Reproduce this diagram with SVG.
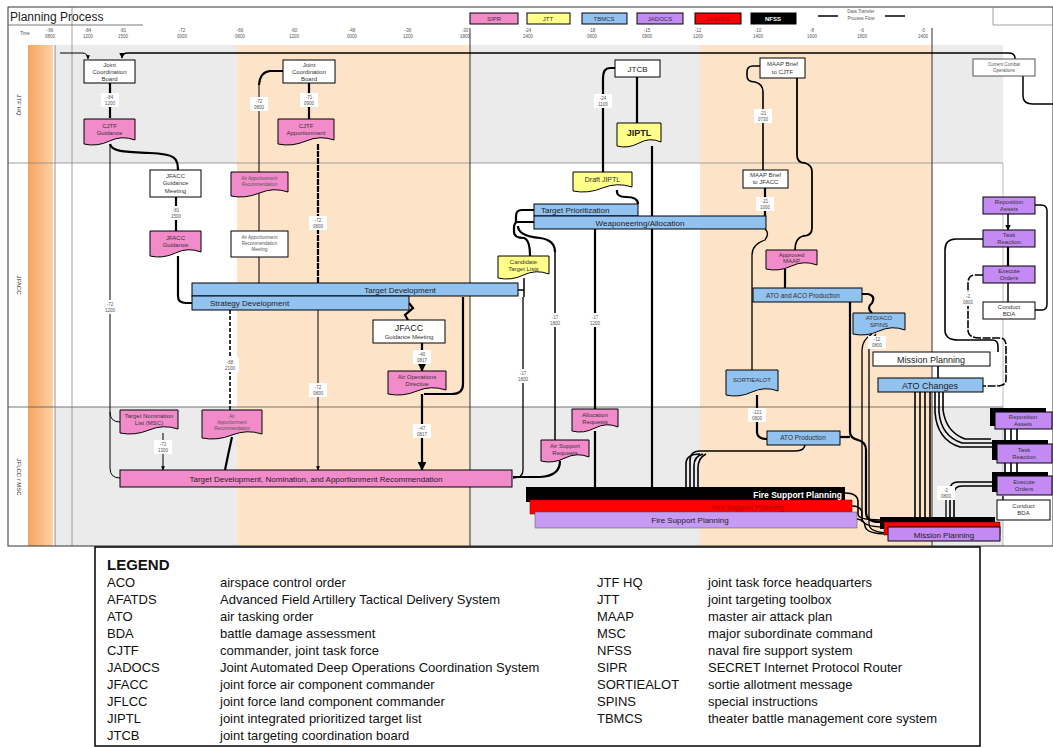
<svg xmlns="http://www.w3.org/2000/svg" width="1053" height="747" viewBox="0 0 1053 747">
<defs>
<linearGradient id="og" x1="0" x2="1"><stop offset="0" stop-color="#f6a35c"/><stop offset="1" stop-color="#fcd2a6"/></linearGradient>
<marker id="ar" viewBox="0 0 6 6" refX="5.5" refY="3" markerWidth="4" markerHeight="4" orient="auto"><path d="M0,0 L6,3 L0,6 Z" fill="#000"/></marker>
<style>
.n{fill:#fff;stroke:#000;stroke-width:1}
.pk{fill:#f28bc9;stroke:#000;stroke-width:1}
.yl{fill:#ffff8a;stroke:#000;stroke-width:1}
.bl{fill:#92c2f0;stroke:#000;stroke-width:1}
.pu{fill:#c28af2;stroke:#000;stroke-width:1}
.bk{fill:#000;stroke:#000}
.s{font-family:"Liberation Sans",Arial,sans-serif;font-size:6px;fill:#333;text-anchor:middle}
.m{font-family:"Liberation Sans",Arial,sans-serif;font-size:8px;fill:#222;text-anchor:middle}
.tl{font-family:"Liberation Sans",Arial,sans-serif;font-size:4.5px;fill:#555;text-anchor:middle}
.lg{font-family:"Liberation Sans",Arial,sans-serif;font-size:13px;fill:#111}
.c{fill:none;stroke:#000;stroke-width:1}
.k{fill:none;stroke:#000;stroke-width:2.2}
.lb{fill:#fff}
</style>
</defs>

<g id="background">
<rect x="0" y="0" width="1053" height="747" fill="#fff"/>
<rect x="55" y="45" width="182" height="118" fill="#ebebeb"/>
<rect x="55" y="407" width="182" height="139" fill="#ebebeb"/>
<rect x="237" y="45" width="233" height="501" fill="#fde4c9"/>
<rect x="470" y="45" width="230" height="118" fill="#ebebeb"/>
<rect x="470" y="407" width="230" height="139" fill="#ebebeb"/>
<rect x="700" y="45" width="232" height="501" fill="#fde4c9"/>
<rect x="932" y="45" width="71" height="118" fill="#ebebeb"/>
<rect x="932" y="407" width="71" height="139" fill="#ebebeb"/>
<rect x="28" y="45" width="25" height="501" fill="url(#og)"/>
<line x1="8" y1="163" x2="1003" y2="163" stroke="#888" stroke-width="0.8"/>
<line x1="8" y1="407" x2="1003" y2="407" stroke="#555" stroke-width="0.8"/>
<line x1="55" y1="45" x2="55" y2="546" stroke="#777" stroke-width="0.8"/>
<line x1="72" y1="7" x2="72" y2="546" stroke="#888" stroke-width="0.8"/>
<line x1="1003" y1="163" x2="1003" y2="546" stroke="#aaa" stroke-width="0.8"/>
<line x1="470" y1="28" x2="470" y2="546" stroke="#333" stroke-width="1"/>
<line x1="932" y1="28" x2="932" y2="546" stroke="#333" stroke-width="1"/>
<rect x="8" y="7" width="1045" height="539" fill="none" stroke="#333" stroke-width="1"/>
<line x1="8" y1="25" x2="143" y2="25" stroke="#555" stroke-width="0.8"/>
<line x1="993" y1="7" x2="993" y2="25" stroke="#888" stroke-width="0.8"/>
<line x1="993" y1="25" x2="1053" y2="25" stroke="#888" stroke-width="0.8"/>
<text x="10" y="21" font-family="Liberation Sans, Arial, sans-serif" font-size="12" fill="#222">Planning Process</text>
<text class="s" transform="translate(17,105) rotate(90)">JTF HQ</text>
<text class="s" transform="translate(17,285) rotate(90)">JFACC</text>
<text class="s" transform="translate(17,477) rotate(90)">JFLCC / MSC</text>
</g>

<g id="timeline">
<text class="tl" x="20" y="35" style="text-anchor:start">Time</text>
<text class="tl" x="50" y="32">-96</text><text class="tl" x="50" y="38">0800</text>
<text class="tl" x="88" y="32">-84</text><text class="tl" x="88" y="38">1200</text>
<text class="tl" x="123" y="32">-81</text><text class="tl" x="123" y="38">1500</text>
<text class="tl" x="182" y="32">-72</text><text class="tl" x="182" y="38">0000</text>
<text class="tl" x="240" y="32">-66</text><text class="tl" x="240" y="38">0600</text>
<text class="tl" x="294" y="32">-60</text><text class="tl" x="294" y="38">1200</text>
<text class="tl" x="352" y="32">-48</text><text class="tl" x="352" y="38">0000</text>
<text class="tl" x="408" y="32">-36</text><text class="tl" x="408" y="38">1200</text>
<text class="tl" x="465" y="32">-30</text><text class="tl" x="465" y="38">1800</text>
<text class="tl" x="528" y="32">-24</text><text class="tl" x="528" y="38">2400</text>
<text class="tl" x="592" y="32">-18</text><text class="tl" x="592" y="38">0600</text>
<text class="tl" x="647" y="32">-15</text><text class="tl" x="647" y="38">0900</text>
<text class="tl" x="698" y="32">-12</text><text class="tl" x="698" y="38">1200</text>
<text class="tl" x="758" y="32">-10</text><text class="tl" x="758" y="38">1400</text>
<text class="tl" x="812" y="32">-8</text><text class="tl" x="812" y="38">1600</text>
<text class="tl" x="862" y="32">-6</text><text class="tl" x="862" y="38">1800</text>
<text class="tl" x="923" y="32">-0</text><text class="tl" x="923" y="38">2400</text>
</g>

<g id="key">
<rect x="470" y="13" width="48" height="11" class="pk"/><text class="s" x="494" y="21">SIPR</text>
<rect x="527" y="13" width="43" height="11" class="yl"/><text class="s" x="548" y="21">JTT</text>
<rect x="582" y="13" width="45" height="11" class="bl"/><text class="s" x="604" y="21">TBMCS</text>
<rect x="637" y="13" width="46" height="11" class="pu"/><text class="s" x="660" y="21">JADOCS</text>
<rect x="695" y="13" width="46" height="11" fill="#f00" stroke="#000"/><text class="s" x="718" y="21" style="fill:#900">AFATDS</text>
<rect x="751" y="13" width="45" height="11" class="bk"/><text class="s" x="773" y="21" style="fill:#fff;font-weight:bold">NFSS</text>
<line x1="818" y1="16" x2="838" y2="16" stroke="#000" stroke-width="1.5"/>
<line x1="885" y1="16" x2="905" y2="16" stroke="#000" stroke-width="1.5"/>
<text class="tl" x="861" y="13">Data Transfer</text>
<text class="tl" x="861" y="20">Process Flow</text>
</g>

<g id="connectors">
<path class="c" d="M60,53 H82 Q88,53 88,59" marker-end="url(#ar)"/>
<path class="k" style="stroke-width:1.5" d="M1015,59 V58 Q1015,53 1008,53 H128 Q122,53 122,58" marker-end="url(#ar)"/>
<path class="c" style="stroke-width:1.5" d="M1023,76 V96 Q1023,104 1033,104 H1053"/>
<path class="k" d="M110,83 V118"/>
<path class="k" d="M110,144 C112,152 125,152 150,153 S178,158 178,170"/>
<path class="c" d="M110,144 V468 Q110,478 120,478"/>
<path class="c" d="M110,412 Q110,422 120,422"/>
<path class="k" d="M176,197 V231"/>
<path class="k" d="M178,256 V296 Q178,303 186,303 H192"/>
<path class="k" d="M283,71 H270 Q260,72 259,85"/>
<path class="c" d="M259,85 V283"/>
<path class="k" d="M309,83 V119"/>
<path class="k" style="stroke-dasharray:6,1" d="M318,144 V283"/>
<path class="c" d="M318,296 V470" marker-end="url(#ar)"/>
<path class="k" style="stroke-width:1.6;stroke-dasharray:4,2" d="M230,310 V410"/>
<path class="k" d="M232,437 Q228,455 225,470"/>
<path class="c" d="M163,433 V470" marker-end="url(#ar)"/>
<path class="k" d="M409,303 L413,308 L405,315 L408,320"/>
<path class="k" d="M422,343 V371" marker-end="url(#ar)"/>
<path class="k" d="M422,394 V470" marker-end="url(#ar)"/>
<path class="k" d="M463,297 V384 Q463,394 452,394 H424"/>
<path class="k" d="M637,77 V123"/>
<path class="k" d="M615,68 H610 Q603,68 603,78 V172"/>
<path class="k" d="M617,190 Q616,197 626,197 Q638,197 638,204"/>
<path class="k" d="M652,146 V216"/>
<path class="k" d="M652,229 V487"/>
<path class="k" d="M595,229 V409"/>
<path class="k" d="M595,431 V487"/>
<path class="k" d="M534,210 H522 Q516,210 516,216 V222"/>
<path class="k" d="M534,222 H518 Q514,222 514,228 V232 Q514,238 524,238 Q530,240 530,256"/>
<path class="k" d="M518,226 Q518,236 540,238 Q555,240 555,252"/>
<path class="c" style="stroke-width:1.5" d="M555,252 V440"/>
<path class="k" style="stroke-width:1.5" d="M518,290 H524 M524,283 V297 M524,278 V283"/>
<path class="c" style="stroke-width:1.3" d="M523,297 V470 Q523,478 513,478"/>
<path class="k" d="M560,461 Q560,476 540,477 H513"/>
<path class="c" style="stroke-width:1.6" d="M760,66 H753 Q747,66 747,72 V76 Q747,82 755,82 Q763,84 763,92 V170"/>
<path class="k" style="stroke-width:1.8" d="M797,78 V155 Q797,163 805,163 Q812,165 812,172 V228 Q812,236 803,236 Q795,238 795,250"/>
<path class="k" d="M765,188 V216"/>
<path class="c" style="stroke-width:1.3" d="M765,229 Q770,233 765,240 Q752,244 752,255 V370"/>
<path class="k" d="M785,269 V288"/>
<path class="k" d="M862,294 H868 Q876,296 872,303 Q866,308 872,313"/>
<path class="k" d="M850,302 V432 Q850,438 858,440 Q866,442 866,450 V512 Q866,522 880,522"/>
<path class="k" d="M840,437 H850"/>
<path class="c" style="stroke-width:1.3" d="M872,334 Q862,340 862,350 V518 Q862,527 884,527"/>
<path class="c" style="stroke-width:1.3" d="M876,334 Q868,344 869,352 V524 Q869,532 888,533"/>
<path class="k" d="M757,395 V432 Q757,439 767,439"/>
<path class="k" style="stroke-width:1.6" d="M805,444 Q805,451 795,451 H700 Q690,451 690,461 V487"/>
<path class="k" style="stroke-width:1.6" d="M700,454 Q686,454 686,464 V487"/>
<path class="k" style="stroke-width:1.6" d="M703,454 Q694,456 694,466 V487"/>
<path class="k" style="stroke-width:1.6" d="M706,454 Q698,458 698,468 V487"/>
<path class="k" style="stroke-width:1.6" d="M845,493 Q858,493 858,502 V514 Q858,520 880,520"/>
<path class="k" style="stroke-width:1.6" d="M852,506 Q862,506 862,514 V522"/>
<path class="k" style="stroke-width:1.6" d="M857,519 Q865,520 865,526 Q866,534 888,534"/>
<path class="k" style="stroke-width:1.6" d="M938,366 V378"/>
<path class="k" style="stroke-width:1.6" d="M915,392 V517"/>
<path class="k" style="stroke-width:1.6" d="M920,392 V517"/>
<path class="k" style="stroke-width:1.6" d="M925,392 V517"/>
<path class="k" style="stroke-width:1.6" d="M930,392 V517"/>
<path class="k" style="stroke-width:1.6" d="M935,392 V412 Q937,440 960,447 H995"/>
<path class="k" style="stroke-width:1.6" d="M939,392 V412 Q941,436 962,443 H993"/>
<path class="k" style="stroke-width:1.6" d="M943,392 V410 Q946,432 965,439 H991"/>
<path class="k" style="stroke-width:1.5" d="M1008,214 V230" marker-end="url(#ar)"/>
<path class="k" d="M1008,247 V266"/>
<path class="k" style="stroke-width:1.5" d="M1008,283 V302"/>
<path class="k" style="stroke-width:1.5" d="M1035,310 H1042 Q1047,310 1047,304 V211 Q1047,205 1041,205 H1035"/>
<path class="k" style="stroke-width:1.6" d="M983,239 H956 Q945,239 945,250 V330 Q945,340 958,340 H992 Q998,340 998,346 V352"/>
<path class="k" style="stroke-width:1.6;stroke-dasharray:8,1.5" d="M983,275 H976 Q968,275 968,283 V330 Q968,338 980,338 H1000 Q1006,338 1006,346 V380 Q1006,386 996,386 H983"/>
<path class="k" style="stroke-width:1.6" d="M1005,429 V443 M1011,429 V443 M1017,429 V443"/>
<path class="k" style="stroke-width:1.6" d="M1005,463 V476 M1011,463 V476 M1017,463 V476"/>
<path class="k" style="stroke-width:1.6" d="M997,482 H958 Q950,482 950,490 V517"/>
<path class="k" style="stroke-width:1.6" d="M997,486 H962 Q954,486 954,494 V517"/>
<path class="c" style="stroke-width:1.3" d="M946,490 V517"/>
<path class="c" style="stroke-width:1.3" d="M1003,496 V500"/>
<rect class="lb" x="101" y="93" width="18" height="14"/><text class="tl" x="110" y="99">-84</text><text class="tl" x="110" y="105">1200</text>
<rect class="lb" x="167" y="206" width="18" height="14"/><text class="tl" x="176" y="212">-81</text><text class="tl" x="176" y="218">1500</text>
<rect class="lb" x="101" y="300" width="18" height="14"/><text class="tl" x="110" y="306">-72</text><text class="tl" x="110" y="312">1200</text>
<rect class="lb" x="250" y="97" width="18" height="14"/><text class="tl" x="259" y="103">-72</text><text class="tl" x="259" y="109">0800</text>
<rect class="lb" x="300" y="93" width="18" height="14"/><text class="tl" x="309" y="99">-71</text><text class="tl" x="309" y="105">0900</text>
<rect class="lb" x="309" y="216" width="18" height="14"/><text class="tl" x="318" y="222">-72</text><text class="tl" x="318" y="228">0800</text>
<rect class="lb" x="309" y="383" width="18" height="14"/><text class="tl" x="318" y="389">-72</text><text class="tl" x="318" y="395">0800</text>
<rect class="lb" x="221" y="358" width="18" height="14"/><text class="tl" x="230" y="364">-68</text><text class="tl" x="230" y="370">2100</text>
<rect class="lb" x="154" y="440" width="18" height="14"/><text class="tl" x="163" y="446">-72</text><text class="tl" x="163" y="452">1300</text>
<rect class="lb" x="413" y="350" width="18" height="14"/><text class="tl" x="422" y="356">-40</text><text class="tl" x="422" y="362">0817</text>
<rect class="lb" x="413" y="424" width="18" height="14"/><text class="tl" x="422" y="430">-47</text><text class="tl" x="422" y="436">0817</text>
<rect class="lb" x="594" y="94" width="18" height="14"/><text class="tl" x="603" y="100">-24</text><text class="tl" x="603" y="106">1100</text>
<rect class="lb" x="546" y="313" width="18" height="14"/><text class="tl" x="555" y="319">-17</text><text class="tl" x="555" y="325">1800</text>
<rect class="lb" x="586" y="313" width="18" height="14"/><text class="tl" x="595" y="319">-17</text><text class="tl" x="595" y="325">1200</text>
<rect class="lb" x="514" y="369" width="18" height="14"/><text class="tl" x="523" y="375">-17</text><text class="tl" x="523" y="381">1800</text>
<rect class="lb" x="754" y="109" width="18" height="14"/><text class="tl" x="763" y="115">-21</text><text class="tl" x="763" y="121">0730</text>
<rect class="lb" x="756" y="197" width="18" height="14"/><text class="tl" x="765" y="203">-21</text><text class="tl" x="765" y="209">1000</text>
<rect class="lb" x="748" y="408" width="18" height="14"/><text class="tl" x="757" y="414">-121</text><text class="tl" x="757" y="420">0800</text>
<rect class="lb" x="868" y="336" width="18" height="13"/><text class="tl" x="877" y="341">-12</text><text class="tl" x="877" y="347">0800</text>
<rect class="lb" x="959" y="292" width="18" height="14"/><text class="tl" x="968" y="298">-2</text><text class="tl" x="968" y="304">0800</text>
<rect class="lb" x="937" y="486" width="18" height="14"/><text class="tl" x="946" y="492">-2</text><text class="tl" x="946" y="498">0800</text>
</g>

<g id="n-jcb1"><rect class="n" x="84" y="60" width="51" height="23"/><text class="s" x="109.5" y="67">Joint</text><text class="s" x="109.5" y="74">Coordination</text><text class="s" x="109.5" y="81">Board</text></g>
<g id="n-cjtf-guidance"><path class="pk" d="M84,119 H135 V140 Q122,135 109.5,141 T84,144 Z"/><text class="s" x="109.5" y="128">CJTF</text><text class="s" x="109.5" y="135">Guidance</text></g>
<g id="n-jcb2"><rect class="n" x="283" y="60" width="52" height="23"/><text class="s" x="309" y="67">Joint</text><text class="s" x="309" y="74">Coordination</text><text class="s" x="309" y="81">Board</text></g>
<g id="n-cjtf-app"><path class="pk" d="M278,119 H334 V140 Q320,135 306,141 T278,144 Z"/><text class="s" x="306" y="128">CJTF</text><text class="s" x="306" y="135">Apportionment</text></g>
<g id="n-jtcb"><rect class="n" x="615" y="60" width="45" height="17"/><text class="m" x="637.5" y="71.5">JTCB</text></g>
<g id="n-jiptl"><path class="yl" d="M617,123 H661 V142 Q650,137 639,143 T617,146 Z"/><text class="m" x="639" y="136" style="font-weight:bold;font-size:9px">JIPTL</text></g>
<g id="n-maap-cjtf"><rect class="n" x="760" y="58" width="45" height="20"/><text class="s" x="782.5" y="66">MAAP Brief</text><text class="s" x="782.5" y="74">to CJTF</text></g>
<g id="n-cco"><rect class="n" x="973" y="59" width="62" height="17" style="stroke:#555"/><text class="tl" x="1004" y="66">Current Combat</text><text class="tl" x="1004" y="72">Operations</text></g>

<g id="n-jfacc-meet"><rect class="n" x="150" y="170" width="51" height="27"/><text class="s" x="175.5" y="178">JFACC</text><text class="s" x="175.5" y="185">Guidance</text><text class="s" x="175.5" y="193">Meeting</text></g>
<g id="n-jfacc-guid"><path class="pk" d="M150,231 H201 V252 Q188,247 175.5,253 T150,256 Z"/><text class="s" x="175.5" y="240">JFACC</text><text class="s" x="175.5" y="247">Guidance</text></g>
<g id="n-air-app-rec"><path class="pk" d="M231,172 H288 V192 Q274,187 259.5,193 T231,196 Z"/><text class="tl" x="259.5" y="180">Air Apportionment</text><text class="tl" x="259.5" y="186">Recommendation</text></g>
<g id="n-air-app-meet"><rect class="n" x="231" y="231" width="57" height="26"/><text class="tl" x="259.5" y="239">Air Apportionment</text><text class="tl" x="259.5" y="245">Recommendation</text><text class="tl" x="259.5" y="251">Meeting</text></g>
<g id="n-draft-jiptl"><path class="yl" d="M573,172 H632 V187 Q617,182 602.5,188 T573,191 Z"/><text class="s" x="602.5" y="182" style="font-size:7px">Draft JIPTL</text></g>
<g id="n-maap-jfacc"><rect class="n" x="743" y="170" width="45" height="18"/><text class="s" x="765.5" y="177">MAAP Brief</text><text class="s" x="765.5" y="184">to JFACC</text></g>
<g id="n-target-prio"><rect class="bl" x="534" y="204" width="104" height="12"/><text class="m" x="541" y="213" style="text-anchor:start">Target Prioritization</text></g>
<g id="n-weaponeering"><rect class="bl" x="534" y="216" width="232" height="13"/><text class="m" x="640" y="225.5">Weaponeering/Allocation</text></g>
<g id="n-candidate"><path class="yl" d="M498,256 H549 V274 Q536,269 523.5,275 T498,278 Z"/><text class="s" x="523.5" y="264">Candidate</text><text class="s" x="523.5" y="271">Target Lists</text></g>
<g id="n-target-dev"><rect class="bl" x="192" y="283" width="326" height="13"/><text class="m" x="400" y="292.5">Target Development</text></g>
<g id="n-strategy-dev"><rect class="bl" x="192" y="296" width="217" height="14"/><text class="m" x="210" y="306" style="text-anchor:start">Strategy Development</text></g>
<g id="n-jfacc-meet2"><rect class="n" x="373" y="320" width="72" height="23"/><text class="m" x="409" y="331" style="font-size:9px">JFACC</text><text class="s" x="409" y="339">Guidance Meeting</text></g>
<g id="n-air-ops-dir"><path class="pk" d="M388,371 H446 V390 Q431,385 417,391 T388,394 Z"/><text class="s" x="417" y="379">Air Operations</text><text class="s" x="417" y="386">Directive</text></g>
<g id="n-approved-maap"><path class="pk" d="M766,250 H817 V265 Q804,260 791.5,266 T766,269 Z"/><text class="s" x="791.5" y="257">Approved</text><text class="s" x="791.5" y="263">MAAP</text></g>
<g id="n-ato-aco"><rect class="bl" x="753" y="288" width="109" height="14"/><text class="s" x="803" y="297.5" style="font-size:6.5px">ATO and ACO Production</text></g>
<g id="n-aco-spins"><path class="bl" d="M853,313 H905 V330 Q892,325 879,331 T853,334 Z"/><text class="s" x="879" y="320">ATO/ACO</text><text class="s" x="879" y="327">SPINS</text></g>
<g id="n-mission-planning"><rect class="n" x="873" y="352" width="117" height="14"/><text class="m" x="931" y="362.5" style="font-size:9px">Mission Planning</text></g>
<g id="n-ato-changes"><rect class="bl" x="878" y="378" width="105" height="14"/><text class="m" x="930" y="388.5" style="font-size:9px">ATO Changes</text></g>
<g id="n-sortiealot"><path class="bl" d="M726,370 H778 V391 Q765,386 752,392 T726,395 Z"/><text class="s" x="752" y="382">SORTIEALOT</text></g>
<g id="n-reposition"><rect class="pu" x="983" y="197" width="52" height="17"/><text class="s" x="1009" y="204">Reposition</text><text class="s" x="1009" y="211">Assets</text></g>
<g id="n-task"><rect class="pu" x="983" y="230" width="52" height="17"/><text class="s" x="1009" y="237">Task</text><text class="s" x="1009" y="244">Reaction</text></g>
<g id="n-execute"><rect class="pu" x="983" y="266" width="52" height="17"/><text class="s" x="1009" y="273">Execute</text><text class="s" x="1009" y="280">Orders</text></g>
<g id="n-bda"><rect class="n" x="983" y="302" width="52" height="17"/><text class="s" x="1009" y="309">Conduct</text><text class="s" x="1009" y="316">BDA</text></g>

<g id="n-target-nom"><path class="pk" d="M120,410 H178 V429 Q163.5,424 149,430 T120,433 Z"/><text class="s" x="149" y="418">Target Nomination</text><text class="s" x="149" y="425">List (MSC)</text></g>
<g id="n-air-app-rec3"><path class="pk" d="M202,410 H262 V434 Q247,429 232,435 T202,438 Z"/><text class="tl" x="232" y="418">Air</text><text class="tl" x="232" y="424">Apportionment</text><text class="tl" x="232" y="430">Recommendation</text></g>
<g id="n-tdnar"><rect class="pk" x="120" y="470" width="392" height="17"/><text class="m" x="316" y="481.5">Target Development, Nomination, and Apportionment Recommendation</text></g>
<g id="n-alloc-req"><path class="pk" d="M572,409 H618 V427 Q606.5,422 595,428 T572,431 Z"/><text class="s" x="595" y="417">Allocation</text><text class="s" x="595" y="424">Requests</text></g>
<g id="n-air-sup-req"><path class="pk" d="M541,440 H589 V457 Q577,452 565,458 T541,461 Z"/><text class="s" x="565" y="448">Air Support</text><text class="s" x="565" y="455">Requests</text></g>
<g id="n-ato-prod"><rect class="bl" x="767" y="431" width="73" height="14"/><text class="s" x="803" y="440" style="font-size:6.5px">ATO Production</text></g>
<g id="n-fsp"><rect x="526" y="487" width="319" height="15" fill="#000"/><rect x="530" y="500" width="322" height="14" fill="#f00" stroke="#600" stroke-width="0.5"/><rect x="535" y="512" width="322" height="16" fill="#c79af4" stroke="#555" stroke-width="0.5"/><text class="m" x="842" y="497.5" style="text-anchor:end;fill:#fff;font-weight:bold;font-size:8.5px">Fire Support Planning</text><text class="m" x="748" y="510" style="fill:#b00000;font-size:7.5px">Fire Support Planning</text><text class="m" x="690" y="523">Fire Support Planning</text></g>
<g id="n-mp-stack"><rect x="880" y="517" width="115" height="12" fill="#000"/><rect x="884" y="522" width="116" height="13" fill="#f00" stroke="#000" stroke-width="0.5"/><rect x="888" y="527" width="112" height="14" class="pu"/><text class="m" x="944" y="537.5">Mission Planning</text></g>
<g id="n-reposition3"><rect x="990" y="408" width="56" height="18" fill="#000"/><rect class="pu" x="995" y="412" width="57" height="17"/><text class="s" x="1023" y="419">Reposition</text><text class="s" x="1023" y="426">Assets</text></g>
<g id="n-task3"><rect x="992" y="440" width="56" height="20" fill="#000"/><rect class="pu" x="997" y="444" width="55" height="19"/><text class="s" x="1024" y="452">Task</text><text class="s" x="1024" y="459">Reaction</text></g>
<g id="n-execute3"><rect x="992" y="472" width="56" height="20" fill="#000"/><rect class="pu" x="997" y="476" width="55" height="19"/><text class="s" x="1024" y="484">Execute</text><text class="s" x="1024" y="491">Orders</text></g>
<g id="n-bda3"><rect class="n" x="997" y="500" width="53" height="20"/><text class="s" x="1023.5" y="508">Conduct</text><text class="s" x="1023.5" y="515">BDA</text></g>

<g id="legend">
<rect x="95" y="547" width="885" height="199" fill="#fff" stroke="#000" stroke-width="1.5"/>
<text x="107" y="570" font-family="Liberation Sans, Arial, sans-serif" font-size="15" font-weight="bold" fill="#111">LEGEND</text>
<text class="lg" x="107" y="587">ACO</text><text class="lg" x="220" y="587">airspace control order</text>
<text class="lg" x="107" y="604">AFATDS</text><text class="lg" x="220" y="604">Advanced Field Artillery Tactical Delivery System</text>
<text class="lg" x="107" y="621">ATO</text><text class="lg" x="220" y="621">air tasking order</text>
<text class="lg" x="107" y="638">BDA</text><text class="lg" x="220" y="638">battle damage assessment</text>
<text class="lg" x="107" y="655">CJTF</text><text class="lg" x="220" y="655">commander, joint task force</text>
<text class="lg" x="107" y="672">JADOCS</text><text class="lg" x="220" y="672">Joint Automated Deep Operations Coordination System</text>
<text class="lg" x="107" y="689">JFACC</text><text class="lg" x="220" y="689">joint force air component commander</text>
<text class="lg" x="107" y="706">JFLCC</text><text class="lg" x="220" y="706">joint force land component commander</text>
<text class="lg" x="107" y="723">JIPTL</text><text class="lg" x="220" y="723">joint integrated prioritized target list</text>
<text class="lg" x="107" y="740">JTCB</text><text class="lg" x="220" y="740">joint targeting coordination board</text>
<text class="lg" x="597" y="587">JTF HQ</text><text class="lg" x="708" y="587">joint task force headquarters</text>
<text class="lg" x="597" y="604">JTT</text><text class="lg" x="708" y="604">joint targeting toolbox</text>
<text class="lg" x="597" y="621">MAAP</text><text class="lg" x="708" y="621">master air attack plan</text>
<text class="lg" x="597" y="638">MSC</text><text class="lg" x="708" y="638">major subordinate command</text>
<text class="lg" x="597" y="655">NFSS</text><text class="lg" x="708" y="655">naval fire support system</text>
<text class="lg" x="597" y="672">SIPR</text><text class="lg" x="708" y="672">SECRET Internet Protocol Router</text>
<text class="lg" x="597" y="689">SORTIEALOT</text><text class="lg" x="708" y="689">sortie allotment message</text>
<text class="lg" x="597" y="706">SPINS</text><text class="lg" x="708" y="706">special instructions</text>
<text class="lg" x="597" y="723">TBMCS</text><text class="lg" x="708" y="723">theater battle management core system</text>
</g>
</svg>
